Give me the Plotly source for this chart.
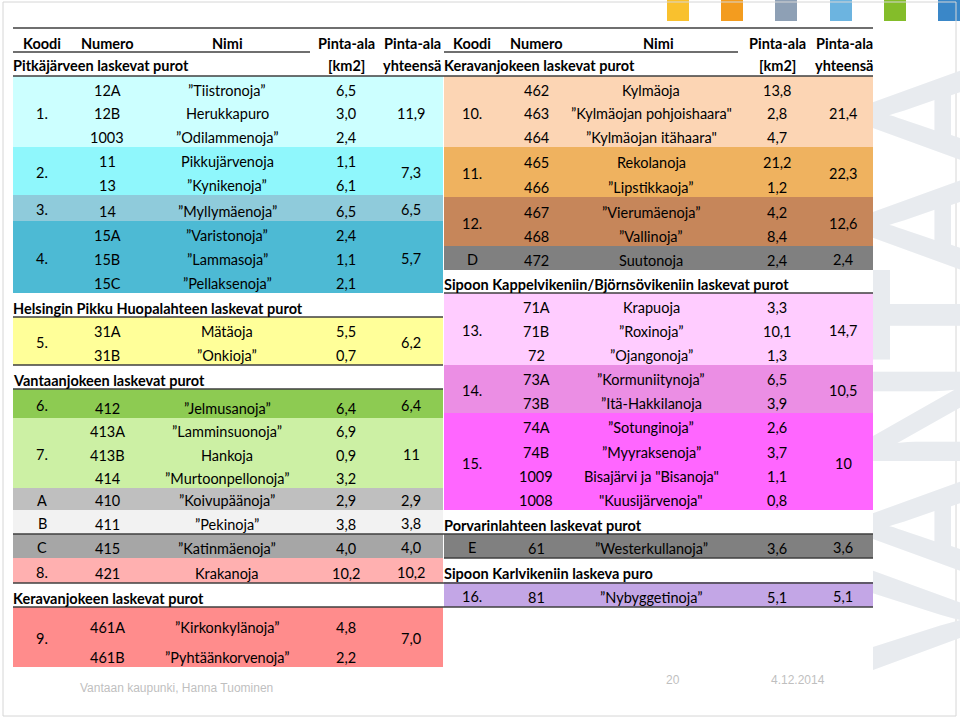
import plotly.graph_objects as go

# ---------------- DATA ----------------
left_header_section = "Pitkäjärveen laskevat purot"
right_header_section = "Keravanjokeen laskevat purot"

left_numero = ["12A", "12B", "1003", "11", "13", "14", "15A", "15B", "15C",
               "31A", "31B", "412", "413A", "413B", "414", "410", "411", "415",
               "421", "461A", "461B"]
left_nimi = ["”Tiistronoja”", "Herukkapuro", "”Odilammenoja”", "Pikkujärvenoja",
             "”Kynikenoja”", "”Myllymäenoja”", "”Varistonoja”", "”Lammasoja”",
             "”Pellaksenoja”", "Mätäoja", "”Onkioja”", "”Jelmusanoja”",
             "”Lamminsuonoja”", "Hankoja", "”Murtoonpellonoja”", "”Koivupäänoja”",
             "”Pekinoja”", "”Katinmäenoja”", "Krakanoja", "”Kirkonkylänoja”",
             "”Pyhtäänkorvenoja”"]
left_pinta = [6.5, 3.0, 2.4, 1.1, 6.1, 6.5, 2.4, 1.1, 2.1, 5.5, 0.7, 6.4,
              6.9, 0.9, 3.2, 2.9, 3.8, 4.0, 10.2, 4.8, 2.2]
left_koodi = ["1.", "2.", "3.", "4.", "5.", "6.", "7.", "A", "B", "C", "8.", "9."]
left_group_size = [3, 2, 1, 3, 2, 1, 3, 1, 1, 1, 1, 2]
left_total = [11.9, 7.3, 6.5, 5.7, 6.2, 6.4, 11, 2.9, 3.8, 4.0, 10.2, 7.0]
left_sections = {4: "Helsingin Pikku Huopalahteen laskevat purot",
                 5: "Vantaanjokeen laskevat purot",
                 11: "Keravanjokeen laskevat purot"}

right_numero = ["462", "463", "464", "465", "466", "467", "468", "472", "71A",
                "71B", "72", "73A", "73B", "74A", "74B", "1009", "1008", "61", "81"]
right_nimi = ["Kylmäoja", "”Kylmäojan pohjoishaara\"", "”Kylmäojan itähaara\"",
              "Rekolanoja", "”Lipstikkaoja”", "”Vierumäenoja”", "”Vallinoja”",
              "Suutonoja", "Krapuoja", "”Roxinoja”", "”Ojangonoja”",
              "”Kormuniitynoja”", "”Itä-Hakkilanoja", "”Sotunginoja”",
              "”Myyraksenoja”", "Bisajärvi ja \"Bisanoja\"", "\"Kuusijärvenoja\"",
              "”Westerkullanoja”", "”Nybyggetinoja”"]
right_pinta = [13.8, 2.8, 4.7, 21.2, 1.2, 4.2, 8.4, 2.4, 3.3, 10.1, 1.3, 6.5,
               3.9, 2.6, 3.7, 1.1, 0.8, 3.6, 5.1]
right_koodi = ["10.", "11.", "12.", "D", "13.", "14.", "15.", "E", "16."]
right_group_size = [3, 2, 2, 1, 3, 2, 4, 1, 1]
right_total = [21.4, 22.3, 12.6, 2.4, 14.7, 10.5, 10, 3.6, 5.1]
right_sections = {4: "Sipoon Kappelvikeniin/Björnsövikeniin laskevat purot",
                  7: "Porvarinlahteen laskevat purot",
                  8: "Sipoon Karlvikeniin laskeva puro"}

header_cols = ["Koodi", "Numero", "Nimi"]
footer_left = "Vantaan kaupunki, Hanna Tuominen"
footer_page = "20"
footer_date = "4.12.2014"
watermark = "VANTAA"

# ---------------- LAYOUT / STYLE ----------------
W, H = 960, 718
FONT = "Lato"
FS = 14.5
left_colors = ["#CCFFFF", "#8FF7FC", "#8FCBDB", "#4DBAD4", "#FFFF99", "#8DCB52",
               "#CCF0A4", "#BFBFBF", "#F2F2F2", "#A6A6A6", "#FFB0B0", "#FF8C8C"]
right_colors = ["#FCD5B4", "#EFB25F", "#C6865A", "#808080", "#FFCCFF", "#EB8EE4",
                "#FF66FF", "#808080", "#C3A6E6"]
left_group_y = [(76, 147), (147, 195), (195, 221), (221, 293), (317, 365), (389, 418),
                (418, 488), (488, 510), (510, 534), (534, 558), (558, 583), (607, 667)]
right_group_y = [(76, 147), (147, 197), (197, 246), (246, 270), (293, 365), (365, 413),
                 (413, 510), (534, 558), (582, 607)]
left_x = dict(x0=13, x1=443, koodi=42, numero=107, nimi=227, pinta=346, total=411)
right_x = dict(x0=444, x1=873, koodi=472, numero=536, nimi=651, pinta=777, total=843)
LINE = "#3F3F3F"


def fmt(v):
    if isinstance(v, int):
        return str(v)
    return f"{v:.1f}".replace(".", ",")


fig = go.Figure()
shapes = []
annotations = []


def txt(x, y, s, size=FS, bold=False, color="#000000", xanchor="center",
        family=FONT):
    annotations.append(dict(
        x=x, y=y, xref="x", yref="y", text=f"<b>{s}</b>" if bold else s,
        showarrow=False, xanchor=xanchor, yanchor="middle",
        font=dict(family=family, size=size, color=color)))


def hline(y, x0, x1, width=1.3, color=LINE):
    shapes.append(dict(type="line", xref="x", yref="y", x0=x0, x1=x1, y0=y, y1=y,
                       line=dict(color=color, width=width), layer="above"))


def build(numero, nimi, pinta, koodi, sizes, totals, sections, gy, colors, cx):
    r = 0
    for g, n in enumerate(sizes):
        top, bot = gy[g]
        shapes.append(dict(type="rect", xref="x", yref="y", x0=cx["x0"], x1=cx["x1"],
                           y0=top, y1=bot, fillcolor=colors[g], line=dict(width=0),
                           layer="below"))
        rh = (bot - top) / n
        for i in range(n):
            ty = top + rh * (i + 1) - 9.5
            txt(cx["numero"], ty, numero[r])
            txt(cx["nimi"], ty, nimi[r])
            txt(cx["pinta"], ty, fmt(pinta[r]))
            r += 1
        cy = (top + bot) / 2 + 1.5
        txt(cx["koodi"], cy, koodi[g])
        txt(cx["total"], cy, fmt(totals[g]))
        if g in sections:
            txt(cx["x0"] - 2, top - 9, sections[g], bold=True, xanchor="left")


build(left_numero, left_nimi, left_pinta, left_koodi, left_group_size, left_total,
      left_sections, left_group_y, left_colors, left_x)
build(right_numero, right_nimi, right_pinta, right_koodi, right_group_size,
      right_total, right_sections, right_group_y, right_colors, right_x)

# header
for cx in (left_x, right_x):
    for k, s in zip(["koodi", "numero", "nimi"], header_cols):
        txt(cx[k] if k != "nimi" else cx[k] + (0 if cx is left_x else 7), 43, s, bold=True)
    txt(cx["pinta"], 43, "Pinta-ala", bold=True)
    txt(cx["pinta"], 65, "[km2]", bold=True)
    txt(cx["total"] + 1, 43, "Pinta-ala", bold=True)
    txt(cx["total"] + 1, 65, "yhteensä", bold=True)
txt(left_x["x0"] - 2, 65, left_header_section, bold=True, xanchor="left")
txt(right_x["x0"] - 2, 65, right_header_section, bold=True, xanchor="left")

# rule lines
hline(28, 13, 873)
hline(52, 13, 310)
hline(52, 444, 738)
hline(76, 13, 873)
hline(317, 13, 443)
hline(365, 13, 443)
hline(389, 13, 443)
hline(293, 444, 873)
hline(534, 13, 873)
hline(558, 444, 873)
hline(583, 13, 873)
hline(607, 13, 873)

# decorative squares at top
for x0, c in zip([667, 721, 775, 830, 884, 938],
                 ["#F9C12E", "#F39C1F", "#8EA0B5", "#6CB4E0", "#84BD2A", "#3A87C8"]):
    shapes.append(dict(type="rect", xref="x", yref="y", x0=x0, x1=x0 + 22, y0=0, y1=21,
                       fillcolor=c, line=dict(width=0), layer="below"))

# slide border
shapes.append(dict(type="rect", xref="x", yref="y", x0=3, x1=956, y0=2, y1=716,
                   line=dict(color="#D6D6D6", width=1), fillcolor="rgba(0,0,0,0)",
                   layer="below"))

# watermark
annotations.insert(0, dict(x=925, y=366, xref="x", yref="y", text=f"<b>{watermark}</b>",
                           showarrow=False, textangle=-90, xanchor="center",
                           yanchor="middle",
                           font=dict(family="Liberation Sans", size=152,
                                     color="#E8EBEF")))

# footer
txt(78, 688, footer_left, size=12, color="#BFBFBF", xanchor="left",
    family="Liberation Sans")
txt(673, 680, footer_page, size=12, color="#BFBFBF", family="Liberation Sans")
txt(798, 680, footer_date, size=12, color="#BFBFBF", family="Liberation Sans")

fig.update_layout(
    width=W, height=H, margin=dict(l=0, r=0, t=0, b=0),
    paper_bgcolor="white", plot_bgcolor="white",
    xaxis=dict(range=[0, W], visible=False, fixedrange=True),
    yaxis=dict(range=[H, 0], visible=False, fixedrange=True),
    shapes=shapes, annotations=annotations, showlegend=False,
)
fig.write_html("out.html", config={"displayModeBar": False},
               post_script="document.body.style.margin='0';")
